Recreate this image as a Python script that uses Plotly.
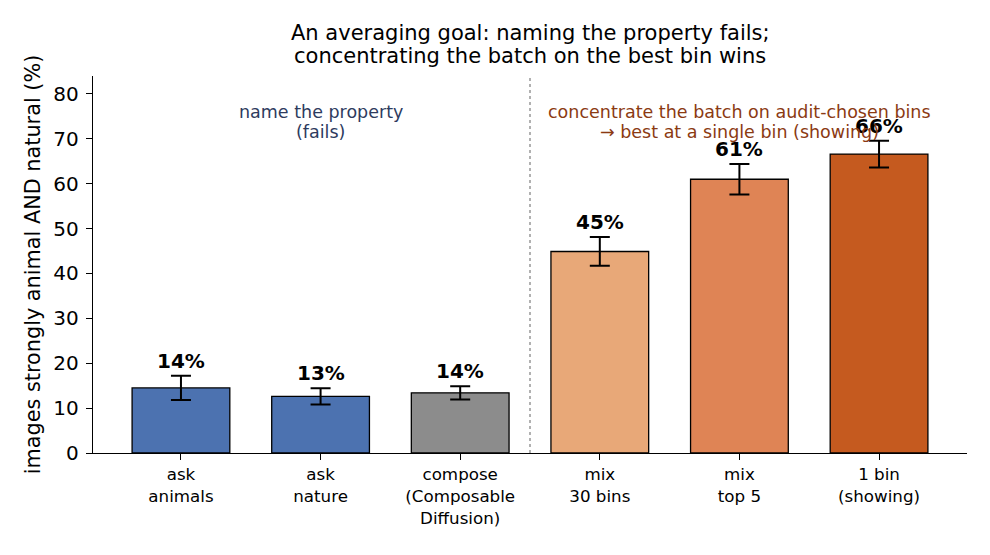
import plotly.graph_objects as go

categories = ["ask<br>animals", "ask<br>nature", "compose<br>(Composable<br>Diffusion)",
              "mix<br>30 bins", "mix<br>top 5", "1 bin<br>(showing)"]
values = [14.5, 12.6, 13.4, 44.9, 61.0, 66.6]
errors = [2.7, 1.8, 1.5, 3.2, 3.4, 3.0]
labels = ["14%", "13%", "14%", "45%", "61%", "66%"]
colors = ["#4c72b0", "#4c72b0", "#8c8c8c", "#e8a878", "#df8455", "#c55a1f"]
title_lines = ["An averaging goal: naming the property fails;",
               "concentrating the batch on the best bin wins"]
left_note = ["name the property", "(fails)"]
right_note = ["concentrate the batch on audit-chosen bins", "→ best at a single bin (showing)"]

x = list(range(len(categories)))
FONT = "DejaVu Sans"
PLOT_TOP, PLOT_BOTTOM = 76, 453

fig = go.Figure()
fig.add_trace(go.Bar(
    x=x, y=values, width=0.7,
    marker=dict(color=colors, line=dict(color="black", width=1.3)),
    error_y=dict(type="data", array=errors, color="black", thickness=2, width=10),
    showlegend=False, hoverinfo="skip",
))

for xi, v, e, t in zip(x, values, errors, labels):
    fig.add_annotation(x=xi, y=v + e, text=f"<b>{t}</b>", showarrow=False,
                       yanchor="bottom", yshift=1,
                       font=dict(family=FONT, size=20, color="black"))

fig.add_shape(type="line", x0=2.5, x1=2.5, y0=0, y1=1, xref="x", yref="paper",
              line=dict(color="#888888", width=1.3, dash="dot"))

for i, (ln, rn) in enumerate(zip(left_note, right_note)):
    yv = 76.0 - 4.5 * i
    fig.add_annotation(x=1, y=yv, text=ln, showarrow=False, yanchor="middle",
                       font=dict(family=FONT, size=17.5, color="#2e3b5e"))
    fig.add_annotation(x=4, y=yv, text=rn, showarrow=False, yanchor="middle",
                       font=dict(family=FONT, size=17.5, color="#8b3a12"))

for pix, t in zip([33, 56], title_lines):
    fig.add_annotation(xref="paper", yref="paper", x=0.5,
                       y=(PLOT_BOTTOM - pix) / (PLOT_BOTTOM - PLOT_TOP),
                       text=t, showarrow=False, xanchor="center", yanchor="middle",
                       font=dict(family=FONT, size=21, color="black"))

fig.update_layout(
    width=990, height=555,
    margin=dict(l=93, r=23, t=PLOT_TOP, b=555 - PLOT_BOTTOM),
    paper_bgcolor="white", plot_bgcolor="white",
    font=dict(family=FONT, color="black"),
    bargap=0.3,
)
fig.update_xaxes(
    range=[-0.63, 5.63], tickmode="array", tickvals=x, ticktext=categories,
    showline=True, linecolor="black", linewidth=1.4, ticks="outside", ticklen=6,
    tickcolor="black", tickwidth=1.4, tickfont=dict(size=16.7, family=FONT),
    showgrid=False, zeroline=False,
)
fig.update_yaxes(
    range=[0, 84], tickvals=[0, 10, 20, 30, 40, 50, 60, 70, 80],
    showline=True, linecolor="black", linewidth=1.4, ticks="outside", ticklen=6,
    tickcolor="black", tickwidth=1.4, tickfont=dict(size=20, family=FONT),
    ticklabelstandoff=3,
    showgrid=False, zeroline=False,
    title=dict(text="images strongly animal AND natural (%)", font=dict(size=20.8, family=FONT),
               standoff=7),
)

fig.write_html("out.html")
